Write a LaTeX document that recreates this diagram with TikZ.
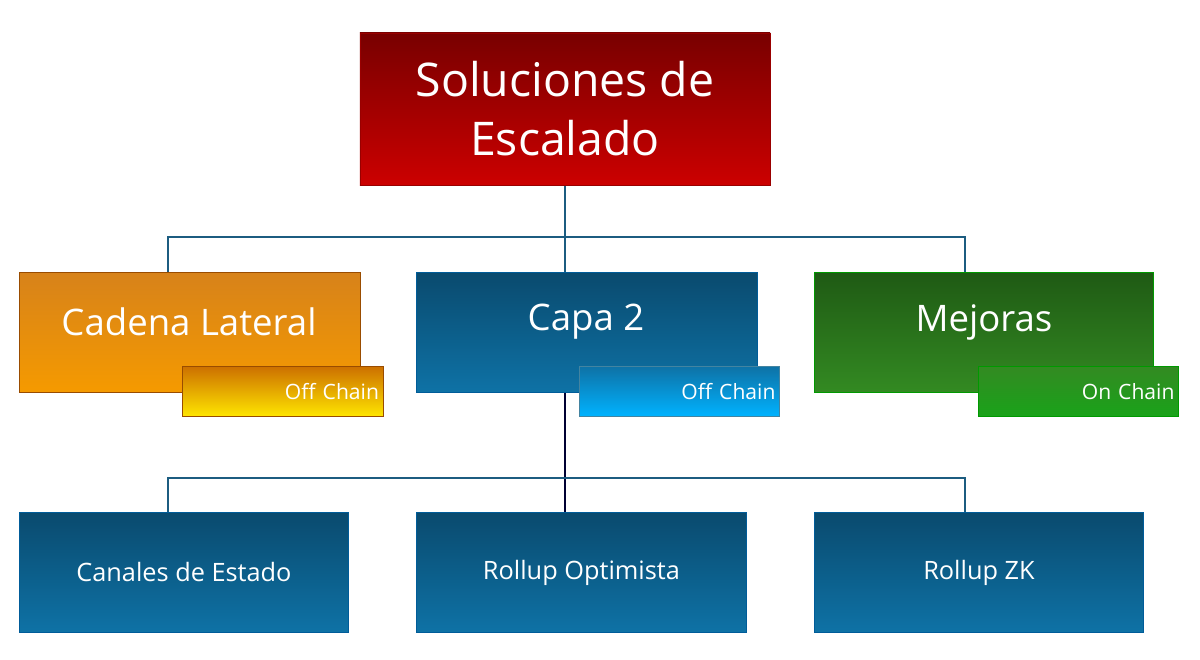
\documentclass[tikz,border=0pt]{standalone}
\usepackage{fontspec}
\setmainfont{Open Sans}
\begin{document}
\begin{tikzpicture}[x=0.025cm,y=-0.025cm,
 box/.style={draw=#1!60!black,line width=0.6pt,inner sep=0pt,text=white,align=center},
 bx/.style={box=blue!40!cyan, top color=blueT, bottom color=blueB},
 ln/.style={draw=lineC,line width=1.2pt}]
\definecolor{blueT}{HTML}{0A4A6E}\definecolor{blueB}{HTML}{0E72A6}
\definecolor{lineC}{HTML}{1C5C80}
\definecolor{redT}{HTML}{780000}\definecolor{redB}{HTML}{CC0000}
\definecolor{orT}{HTML}{D7821A}\definecolor{orB}{HTML}{F59A00}
\definecolor{grT}{HTML}{1F5A14}\definecolor{grB}{HTML}{338A22}
\useasboundingbox (0,0) rectangle (1200,659);
\fill[white] (0,0) rectangle (1200,659);
% connectors
\coordinate (j1) at (565,237);
\draw[ln] (565,185) -- (j1);
\draw[ln] (168,272) |- (965,237) -- (965,272);
\draw[ln] (565,237) -- (565,272);
\draw[draw=black!80!blue,line width=1.4pt] (565,392) -- (565,512);
\draw[ln] (168,512) |- (965,478) -- (965,512);
% top
\node[box=red, top color=redT, bottom color=redB, minimum width=410\pgflinewidth*0+10.25cm, minimum height=3.8cm, font=\fontsize{33}{42}\selectfont] (top) at (565,109) {Soluciones de\\Escalado};
% level 2
\node[box=orange, top color=orT, bottom color=orB, minimum width=8.525cm, minimum height=3cm, font=\fontsize{26}{30}\selectfont, anchor=north west, text depth=0pt] (cad) at (19,272) {};
\node[text=white,font=\fontsize{26}{30}\selectfont] (cadt) at (189,322) {Cadena Lateral};
\node[bx, minimum width=8.525cm, minimum height=3cm, anchor=north west] (capa) at (416,272) {};
\node[text=white,font=\fontsize{26}{30}\selectfont] (capat) at (586,322) {Capa 2};
\node[box=green, top color=grT, bottom color=grB, minimum width=8.475cm, minimum height=3cm, anchor=north west] (mej) at (814,272) {};
\node[text=white,font=\fontsize{26}{30}\selectfont] (mejt) at (984,322) {Mejoras};
% tags
\node[box=orange, top color=orange!90!yellow!80!black, bottom color=yellow!80!orange, minimum width=5.025cm, minimum height=1.25cm, anchor=north west, font=\fontsize{15}{18}\selectfont, align=right, text width=4.8cm] (t1) at (182,366) {Off Chain};
\node[box=cyan, top color=blueB, bottom color=cyan!70!blue, minimum width=5cm, minimum height=1.25cm, anchor=north west, font=\fontsize{15}{18}\selectfont, align=right, text width=4.8cm] (t2) at (579,366) {Off Chain};
\node[box=green, top color=grB, bottom color=green!60!black!90, minimum width=5cm, minimum height=1.25cm, anchor=north west, font=\fontsize{15}{18}\selectfont, align=right, text width=4.8cm] (t3) at (978,366) {On Chain};
% level 3
\node[bx, minimum width=8.225cm, minimum height=3cm, anchor=north west, font=\fontsize{18}{22}\selectfont] (c1) at (19,512) {Canales de Estado};
\node[bx, minimum width=8.25cm, minimum height=3cm, anchor=north west, font=\fontsize{18}{22}\selectfont] (c2) at (416,512) {Rollup Optimista};
\node[bx, minimum width=8.225cm, minimum height=3cm, anchor=north west, font=\fontsize{18}{22}\selectfont] (c3) at (814,512) {Rollup ZK};
\end{tikzpicture}
\end{document}
